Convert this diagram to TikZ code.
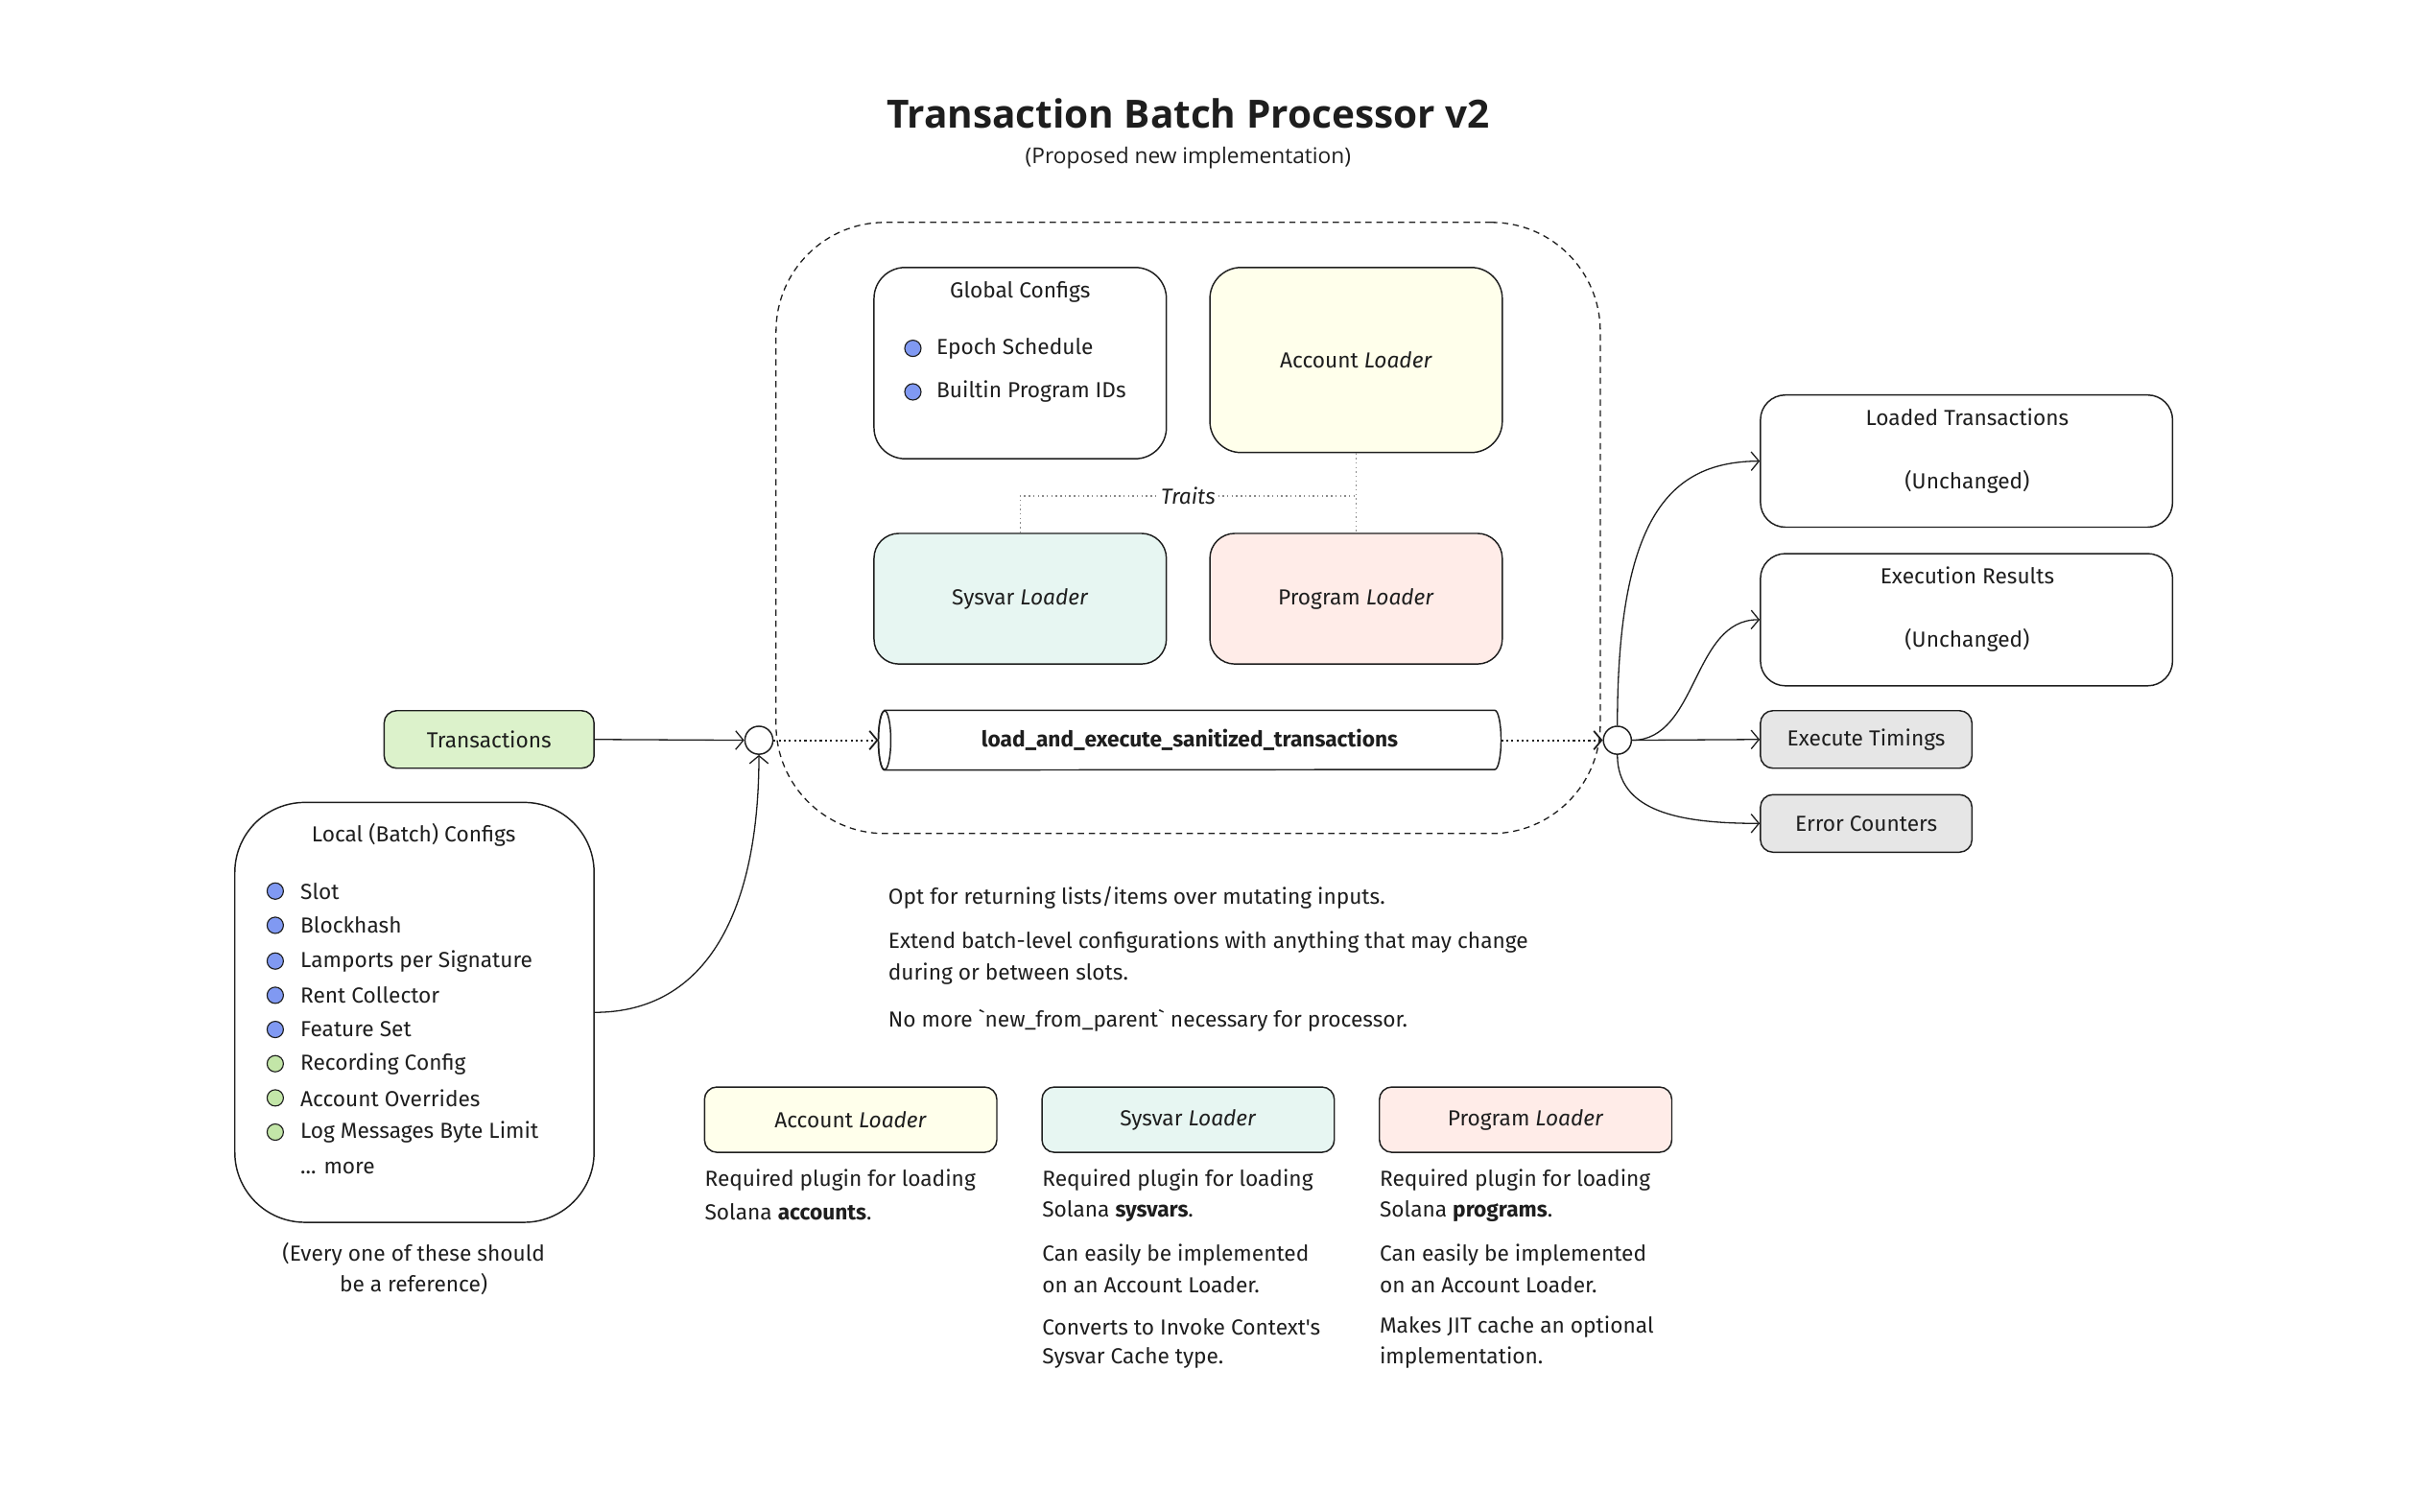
\documentclass[tikz,border=0pt]{standalone}
\usepackage{fontspec}
\setmainfont{Fira Sans}[Ligatures=TeXOff]
\newfontfamily\titlefont{Open Sans}[Ligatures=TeXOff]
\usetikzlibrary{arrows.meta,calc}
\definecolor{ink}{HTML}{1E1E1E}
\definecolor{cyellow}{HTML}{FFFFEB}
\definecolor{cteal}{HTML}{E7F6F2}
\definecolor{cpink}{HTML}{FFECE8}
\definecolor{cgreen}{HTML}{DCF2CB}
\definecolor{cgray}{HTML}{E6E6E6}
\definecolor{bblue}{HTML}{8099F2}
\definecolor{bgreen}{HTML}{C3E6A8}
\definecolor{dotgray}{HTML}{8A8A8A}
\tikzset{
  box/.style={draw=ink, line width=0.9pt, rounded corners=#1, inner sep=0pt, text=ink},
  box/.default=16pt,
  txt/.style={inner sep=0pt, text=ink, font=\fontsize{14}{17}\selectfont},
  bul/.style={circle, draw=ink, line width=0.7pt, minimum size=10.5pt, inner sep=0pt},
  hub/.style={circle, draw=ink, fill=white, line width=0.9pt, minimum size=18pt, inner sep=0pt},
  arr/.style={draw=ink, line width=0.8pt, -{Straight Barb[length=5pt,width=12pt,line width=0.8pt]}},
  darr/.style={draw=ink, line width=1.3pt, dotted, -{Straight Barb[length=5pt,width=12pt,line width=1.1pt]}},
  trait/.style={draw=dotgray, line width=0.9pt, dotted},
}
\begin{document}
\begin{tikzpicture}[x=1pt,y=-1pt]
\useasboundingbox (0,0) rectangle (1566.4,971.7);
% title
\node[inner sep=0pt, text=ink, font=\titlefont\bfseries\fontsize{25}{30}\selectfont] (title) at (764,73) {Transaction Batch Processor v2};
\node[txt, font=\titlefont\fontsize{14}{17}\selectfont] (subtitle) at (764,101.5) {(Proposed new implementation)};

% container
\node[draw=ink, line width=0.8pt, dash pattern=on 4pt off 3pt, rounded corners=70pt, minimum width=530pt, minimum height=393pt] (core) at (764,339.5) {};

% global configs
\node[box=20pt, minimum width=188pt, minimum height=123pt] (glob) at (656,233.5) {};
\node[txt] (globt) at (656,188) {Global Configs};
\node[bul, fill=bblue] (gb1) at (587,224) {};
\node[txt, anchor=west] (gi1) at (602,224) {Epoch Schedule};
\node[bul, fill=bblue] (gb2) at (587,252) {};
\node[txt, anchor=west] (gi2) at (602,252) {Builtin Program IDs};

% loaders
\node[box=20pt, fill=cyellow, minimum width=188pt, minimum height=119pt, font=\fontsize{14}{17}\selectfont] (acc) at (872,231.5) {Account \textit{Loader}};
\node[box=16pt, fill=cteal, minimum width=188pt, minimum height=84pt, font=\fontsize{14}{17}\selectfont] (sys) at (656,385) {Sysvar \textit{Loader}};
\node[box=16pt, fill=cpink, minimum width=188pt, minimum height=84pt, font=\fontsize{14}{17}\selectfont] (prog) at (872,385) {Program \textit{Loader}};

% traits
\coordinate (tj) at (872,319);
\draw[trait] (acc.south) -- (prog.north);
\draw[trait] (sys.north) |- (tj);
\node[txt, fill=white, inner sep=1pt, font=\itshape\fontsize{14}{17}\selectfont] (traits) at (764,319) {Traits};

% function cylinder
\node[inner sep=0pt, minimum width=400pt, minimum height=38pt] (fn) at (765,476) {};
\draw[ink, line width=0.9pt, fill=white]
  ($(fn.north west)+(4,0)$) -- ($(fn.north east)+(-4,0)$)
  arc[start angle=90, end angle=-90, x radius=4pt, y radius=19pt]
  -- ($(fn.south west)+(4,0)$)
  arc[start angle=270, end angle=90, x radius=4pt, y radius=19pt] -- cycle;
\draw[ink, line width=0.9pt] ($(fn.west)+(4,0)$) ellipse[x radius=4pt, y radius=19pt];
\node[inner sep=0pt, text=ink, font=\bfseries\fontsize{14}{17}\selectfont] (fnt) at (765,476) {load\_and\_execute\_sanitized\_transactions};

% hubs
\node[hub] (lc) at (488,476) {};
\node[hub] (rc) at (1040,476) {};

% inputs
\node[box=8pt, fill=cgreen, minimum width=135pt, minimum height=37pt, font=\fontsize{14}{17}\selectfont] (tx) at (314.5,475.5) {Transactions};
\node[box=45pt, minimum width=231pt, minimum height=270pt] (loc) at (266.5,651) {};
\node[txt] (loct) at (266,537) {Local (Batch) Configs};
\foreach \i/\t/\c/\y in {1/Slot/bblue/573, 2/Blockhash/bblue/595, 3/Lamports per Signature/bblue/618, 4/Rent Collector/bblue/640, 5/Feature Set/bblue/662, 6/Recording Config/bgreen/684, 7/Account Overrides/bgreen/706, 8/Log Messages Byte Limit/bgreen/728}{
  \node[bul, fill=\c] (lb\i) at (177,\y) {};
  \node[txt, anchor=west] (li\i) at (193,\y) {\t};
}
\node[txt, anchor=west] (limore) at (193,751) {... more};
\node[txt, align=center, font=\fontsize{14}{20}\selectfont] (loccap) at (266,816) {(Every one of these should\\be a reference)};

% outputs
\node[box=16pt, minimum width=265pt, minimum height=85pt] (ltx) at (1264.5,296.5) {};
\node[txt] (ltxa) at (1265,268) {Loaded Transactions};
\node[txt] (ltxb) at (1265,310) {(Unchanged)};
\node[box=16pt, minimum width=265pt, minimum height=85pt] (exr) at (1264.5,398.5) {};
\node[txt] (exra) at (1265,370) {Execution Results};
\node[txt] (exrb) at (1265,412) {(Unchanged)};
\node[box=8pt, fill=cgray, minimum width=136pt, minimum height=37pt, font=\fontsize{14}{17}\selectfont] (tim) at (1200,475.5) {Execute Timings};
\node[box=8pt, fill=cgray, minimum width=136pt, minimum height=37pt, font=\fontsize{14}{17}\selectfont] (err) at (1200,529.5) {Error Counters};

% connectors
\draw[arr] (tx.east) -- (lc.west);
\draw[arr] (loc.east) .. controls (455,651) and (488,585) .. (lc.south);
\draw[darr] (lc.east) -- (fn.west);
\draw[darr] (fn.east) -- (rc.west);
\draw[arr] (rc.north) .. controls (1040,330) and (1075,297) .. (ltx.west);
\draw[arr] (rc.east) .. controls (1092,476) and (1088,398) .. (exr.west);
\draw[arr] (rc.east) -- (tim.west);
\draw[arr] (rc.south) .. controls (1040,522) and (1080,529.5) .. (err.west);

% notes
\node[txt, anchor=west] (n1) at (571,577) {Opt for returning lists/items over mutating inputs.};
\node[txt, anchor=west] (n2) at (571,606) {Extend batch-level configurations with anything that may change};
\node[txt, anchor=west] (n3) at (571,626) {during or between slots.};
\node[txt, anchor=west] (n4) at (571,656) {No more `new\_from\_parent` necessary for processor.};

% legend
\node[box=8pt, fill=cyellow, minimum width=188pt, minimum height=42pt, font=\fontsize{14}{17}\selectfont] (lacc) at (547,720) {Account \textit{Loader}};
\node[box=8pt, fill=cteal, minimum width=188pt, minimum height=42pt, font=\fontsize{14}{17}\selectfont] (lsys) at (764,720) {Sysvar \textit{Loader}};
\node[box=8pt, fill=cpink, minimum width=188pt, minimum height=42pt, font=\fontsize{14}{17}\selectfont] (lprog) at (981,720) {Program \textit{Loader}};

\node[txt, anchor=west] (a1) at (453,759) {Required plugin for loading};
\node[txt, anchor=west] (a2) at (453,779) {Solana \textbf{accounts}.};

\node[txt, anchor=west] (s1) at (670,759) {Required plugin for loading};
\node[txt, anchor=west] (s2) at (670,779) {Solana \textbf{sysvars}.};
\node[txt, anchor=west] (s3) at (670,807) {Can easily be implemented};
\node[txt, anchor=west] (s4) at (670,826) {on an Account Loader.};
\node[txt, anchor=west] (s5) at (670,853) {Converts to Invoke Context's};
\node[txt, anchor=west] (s6) at (670,873) {Sysvar Cache type.};

\node[txt, anchor=west] (p1) at (887,759) {Required plugin for loading};
\node[txt, anchor=west] (p2) at (887,779) {Solana \textbf{programs}.};
\node[txt, anchor=west] (p3) at (887,807) {Can easily be implemented};
\node[txt, anchor=west] (p4) at (887,826) {on an Account Loader.};
\node[txt, anchor=west] (p5) at (887,853) {Makes JIT cache an optional};
\node[txt, anchor=west] (p6) at (887,873) {implementation.};
\end{tikzpicture}
\end{document}
